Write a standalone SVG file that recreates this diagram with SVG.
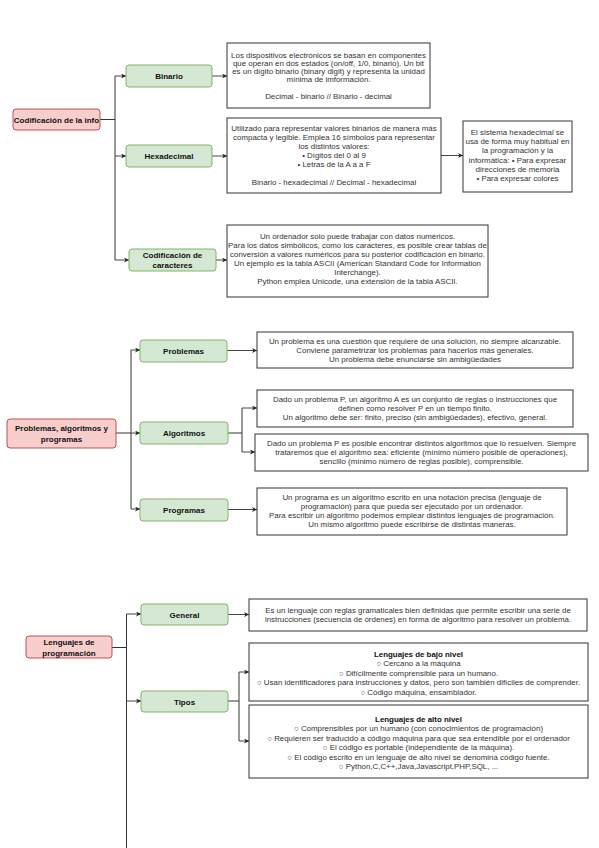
<svg xmlns="http://www.w3.org/2000/svg" width="599" height="848" viewBox="0 0 599 848">
<defs>
<marker id="ah" viewBox="0 0 10 10" refX="10" refY="5" markerWidth="5" markerHeight="5" orient="auto" markerUnits="userSpaceOnUse"><path d="M0,0 L10,5 L0,10 L3,5 Z" fill="#222"/></marker>
<style>
.root{fill:#f8cecc;stroke:#b85450;stroke-width:1}
.sub{fill:#d5e8d4;stroke:#82b366;stroke-width:1}
.box{fill:#fff;stroke:#333;stroke-width:1}
.lbl{font-family:"Liberation Sans",Arial,sans-serif;font-size:8px;font-weight:bold;fill:#111;text-anchor:middle}
.txt{font-family:"Liberation Sans",Arial,sans-serif;font-size:7.9px;fill:#333;text-anchor:middle}
.b{font-weight:bold;fill:#111}
.c{fill:none;stroke:#333;stroke-width:1}
.ca{fill:none;stroke:#444;stroke-width:1;marker-end:url(#ah)}
</style>
</defs>
<rect width="599" height="848" fill="#fff"/>
<g id="connectors">
<path class="c" d="M100,119.5 H115 M115,76 V260"/>
<path class="ca" d="M115,76 H126"/>
<path class="ca" d="M115,156 H126"/>
<path class="ca" d="M115,260 H129"/>
<path class="ca" d="M212,76 H227"/>
<path class="ca" d="M212,156 H227"/>
<path class="ca" d="M441,155.5 H463"/>
<path class="ca" d="M216,260 H227"/>
<path class="c" d="M116,433 H131 M131,350 V509"/>
<path class="ca" d="M131,350 H140"/>
<path class="ca" d="M131,433 H140"/>
<path class="ca" d="M131,509 H140"/>
<path class="ca" d="M227,350.5 H257"/>
<path class="c" d="M228,433 H242 M242,408 V452"/>
<path class="ca" d="M242,408 H257"/>
<path class="ca" d="M242,452 H255"/>
<path class="ca" d="M228,509.5 H257"/>
<path class="c" d="M112,647.5 H126.5 M126.5,614 V848"/>
<path class="ca" d="M126.5,614 H141"/>
<path class="ca" d="M126.5,701 H141"/>
<path class="ca" d="M228,614.5 H249"/>
<path class="c" d="M228,701 H239 M239,672 V741"/>
<path class="ca" d="M239,672 H249"/>
<path class="ca" d="M239,741 H249"/>
</g>
<g id="n-codif">
<rect class="root" x="13" y="109" width="87" height="21" rx="3"/>
<text class="lbl" x="56.5" y="122.5">Codificación de la info</text>
</g>
<g id="n-binario">
<rect class="sub" x="126" y="65" width="86" height="22" rx="3"/>
<text class="lbl" x="169" y="79">Binario</text>
</g>
<g id="n-hex">
<rect class="sub" x="126" y="145" width="86" height="22" rx="3"/>
<text class="lbl" x="169" y="159">Hexadecimal</text>
</g>
<g id="n-car">
<rect class="sub" x="129" y="249" width="87" height="22" rx="3"/>
<text class="lbl" x="172.5" y="258">Codificación de</text>
<text class="lbl" x="172.5" y="268">caracteres</text>
</g>
<g id="t-binario">
<rect class="box" x="227" y="43" width="203" height="65"/>
<text class="txt" x="328.5" y="57.6">Los dispositivos electrónicos se basan en componentes</text>
<text class="txt" x="328.5" y="65.8">que operan en dos estados (on/off, 1/0, binario). Un bit</text>
<text class="txt" x="328.5" y="74">es un dígito binario (binary digit) y representa la unidad</text>
<text class="txt" x="328.5" y="82.2">mínima de imformación.</text>
<text class="txt" x="328.5" y="98.6">Decimal - binario // Binario - decimal</text>
</g>
<g id="t-hex">
<rect class="box" x="227" y="118" width="214" height="75"/>
<text class="txt" x="334" y="131.1">Utilizado para representar valores binarios de manera más</text>
<text class="txt" x="334" y="140.1">compacta y legible. Emplea 16 símbolos para representar</text>
<text class="txt" x="334" y="149.1">los distintos valores:</text>
<text class="txt" x="334" y="158.1">• Dígitos del 0 al 9</text>
<text class="txt" x="334" y="167.1">• Letras de la A a a F</text>
<text class="txt" x="334" y="185.1">Binario - hexadecimal // Decimal - hexadecimal</text>
</g>
<g id="t-hexuso">
<rect class="box" x="463" y="121" width="109" height="71"/>
<text class="txt" x="517.5" y="134.6">El sistema hexadecimal se</text>
<text class="txt" x="517.5" y="143.9">usa de forma muy habitual en</text>
<text class="txt" x="517.5" y="153.2">la programación y la</text>
<text class="txt" x="517.5" y="162.5">informática: • Para expresar</text>
<text class="txt" x="517.5" y="171.8">direcciones de memoria</text>
<text class="txt" x="517.5" y="181.1">• Para expresar colores</text>
</g>
<g id="t-car">
<rect class="box" x="227" y="225" width="261" height="72"/>
<text class="txt" x="357.5" y="238.6">Un ordenador solo puede trabajar con datos numéricos.</text>
<text class="txt" x="357.5" y="247.6">Para los datos simbólicos, como los caracteres, es posible crear tablas de</text>
<text class="txt" x="357.5" y="256.6">conversión a valores numéricos para su posterior codificación en binario.</text>
<text class="txt" x="357.5" y="265.6">Un ejemplo es la tabla ASCII (American Standard Code for Information</text>
<text class="txt" x="357.5" y="274.6">Interchange).</text>
<text class="txt" x="357.5" y="283.6">Python emplea Unicode, una extensión de la tabla ASCII.</text>
</g>
<g id="n-pap">
<rect class="root" x="7" y="419" width="109" height="29" rx="3"/>
<text class="lbl" x="61.5" y="430.5">Problemas, algoritmos y</text>
<text class="lbl" x="61.5" y="441.5">programas</text>
</g>
<g id="n-problemas">
<rect class="sub" x="140" y="340" width="87" height="22" rx="3"/>
<text class="lbl" x="183.5" y="354">Problemas</text>
</g>
<g id="n-algoritmos">
<rect class="sub" x="140" y="422" width="88" height="22" rx="3"/>
<text class="lbl" x="184" y="436">Algoritmos</text>
</g>
<g id="n-programas">
<rect class="sub" x="140" y="499" width="88" height="22" rx="3"/>
<text class="lbl" x="184" y="513">Programas</text>
</g>
<g id="t-problemas">
<rect class="box" x="257" y="332" width="316" height="36"/>
<text class="txt" x="415" y="343.6">Un problema es una cuestión que requiere de una solución, no siempre alcanzable.</text>
<text class="txt" x="415" y="352.6">Conviene parametrizar los problemas para hacerlos más generales.</text>
<text class="txt" x="415" y="361.6">Un problema debe enunciarse sin ambigüedades</text>
</g>
<g id="t-alg1">
<rect class="box" x="257" y="390" width="316" height="37"/>
<text class="txt" x="415" y="402.1">Dado un problema P, un algoritmo A es un conjunto de reglas o instrucciones que</text>
<text class="txt" x="415" y="411.1">definen como resolver P en un tiempo finito.</text>
<text class="txt" x="415" y="420.1">Un algoritmo debe ser: finito, preciso (sin ambigüedades), efectivo, general.</text>
</g>
<g id="t-alg2">
<rect class="box" x="255" y="434" width="333" height="37"/>
<text class="txt" x="421.5" y="446.1">Dado un problema P es posible encontrar distintos algoritmos que lo resuelven. Siempre</text>
<text class="txt" x="421.5" y="455.1">trataremos que el algoritmo sea: eficiente (mínimo número posible de operaciones),</text>
<text class="txt" x="421.5" y="464.1">sencillo (mínimo número de reglas posible), comprensible.</text>
</g>
<g id="t-programas">
<rect class="box" x="257" y="488" width="310" height="47"/>
<text class="txt" x="412" y="499.6">Un programa es un algoritmo escrito en una notación precisa (lenguaje de</text>
<text class="txt" x="412" y="508.6">programación) para que pueda ser ejecutado por un ordenador.</text>
<text class="txt" x="412" y="517.6">Para escribir un algoritmo podemos emplear distintos lenguajes de programación.</text>
<text class="txt" x="412" y="526.6">Un mismo algoritmo puede escribirse de distintas maneras.</text>
</g>
<g id="n-leng">
<rect class="root" x="26" y="636" width="86" height="22" rx="3"/>
<text class="lbl" x="69" y="645">Lenguajes de</text>
<text class="lbl" x="69" y="656">programación</text>
</g>
<g id="n-general">
<rect class="sub" x="141" y="604" width="87" height="21" rx="3"/>
<text class="lbl" x="184.5" y="617.5">General</text>
</g>
<g id="n-tipos">
<rect class="sub" x="141" y="691" width="87" height="21" rx="3"/>
<text class="lbl" x="184.5" y="704.5">Tipos</text>
</g>
<g id="t-general">
<rect class="box" x="249" y="599" width="338" height="32"/>
<text class="txt" x="418" y="612.6">Es un lenguaje con reglas gramaticales bien definidas que permite escribir una serie de</text>
<text class="txt" x="418" y="622.1">instrucciones (secuencia de órdenes) en forma de algoritmo para resolver un problema.</text>
</g>
<g id="t-bajo">
<rect class="box" x="249" y="643" width="339" height="58"/>
<text class="txt b" x="418.5" y="656.6">Lenguajes de bajo nivel</text>
<text class="txt" x="418.5" y="666.1">○ Cercano a la máquina</text>
<text class="txt" x="418.5" y="675.6">○ Difícilmente comprensible para un humano.</text>
<text class="txt" x="418.5" y="685.1">○ Usan identificadores para instrucciones y datos, pero son también difíciles de comprender.</text>
<text class="txt" x="418.5" y="694.6">○ Código máquina, ensamblador.</text>
</g>
<g id="t-alto">
<rect class="box" x="249" y="705" width="339" height="73"/>
<text class="txt b" x="418.5" y="721.6">Lenguajes de alto nivel</text>
<text class="txt" x="418.5" y="731.1">○ Comprensibles por un humano (con conocimientos de programación)</text>
<text class="txt" x="418.5" y="740.6">○ Requieren ser traducido a código máquina para que sea entendible por el ordenador</text>
<text class="txt" x="418.5" y="750.1">○ El código es portable (independiente de la máquina).</text>
<text class="txt" x="418.5" y="759.6">○ El código escrito en un lenguaje de alto nivel se denomina código fuente.</text>
<text class="txt" x="418.5" y="769.1">○ Python,C,C++,Java,Javascript,PHP,SQL, ...</text>
</g>
</svg>
